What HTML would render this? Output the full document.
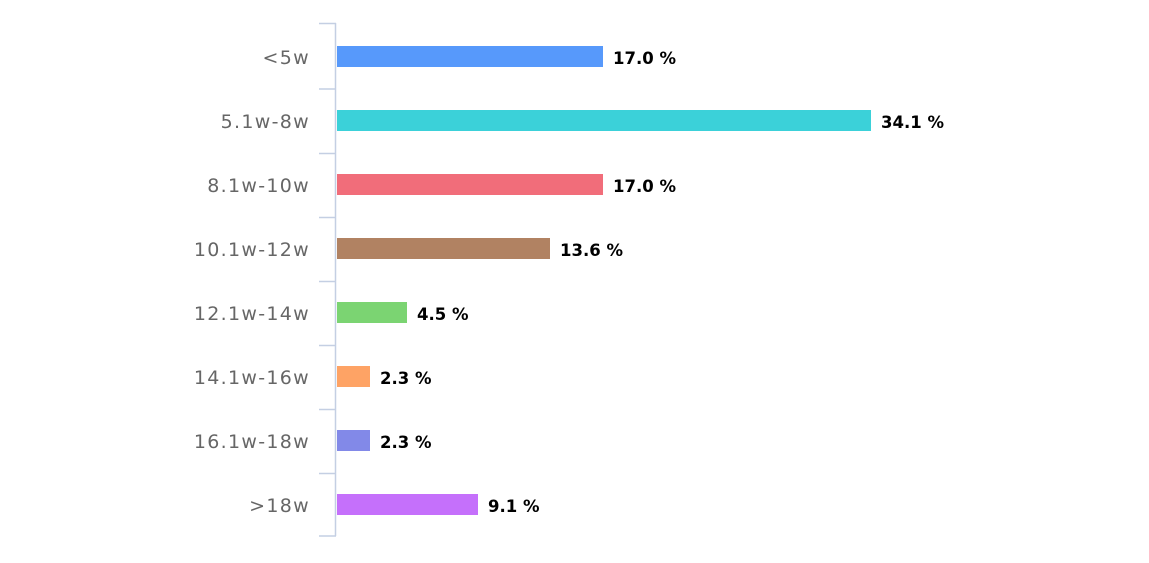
<!DOCTYPE html>
<html><head><meta charset="utf-8"><style>
body{margin:0;background:#fff;}
</style></head><body>
<svg width="1149" height="558" xmlns="http://www.w3.org/2000/svg" font-family="'DejaVu Sans','Liberation Sans',sans-serif">
<g stroke="#c4cfe3" stroke-width="1.5">
<line x1="335.5" y1="23" x2="335.5" y2="536"/>
<line x1="319" y1="23.5" x2="336" y2="23.5"/>
<line x1="319" y1="89" x2="336" y2="89"/>
<line x1="319" y1="153.5" x2="336" y2="153.5"/>
<line x1="319" y1="217.5" x2="336" y2="217.5"/>
<line x1="319" y1="281.5" x2="336" y2="281.5"/>
<line x1="319" y1="345.5" x2="336" y2="345.5"/>
<line x1="319" y1="409.5" x2="336" y2="409.5"/>
<line x1="319" y1="473.5" x2="336" y2="473.5"/>
<line x1="319" y1="536" x2="336" y2="536"/>
</g>
<g font-size="19" fill="#666" text-anchor="end" letter-spacing="1.3">
<text x="310" y="64">&lt;5w</text>
<text x="310" y="128">5.1w-8w</text>
<text x="310" y="192">8.1w-10w</text>
<text x="310" y="256">10.1w-12w</text>
<text x="310" y="320">12.1w-14w</text>
<text x="310" y="384">14.1w-16w</text>
<text x="310" y="448">16.1w-18w</text>
<text x="310" y="512">&gt;18w</text>
</g>
<rect x="337" y="46" width="266" height="21" fill="#5799fb"/>
<rect x="337" y="110" width="534" height="21" fill="#3bd1d9"/>
<rect x="337" y="174" width="266" height="21" fill="#f16d7a"/>
<rect x="337" y="238" width="213" height="21" fill="#b18262"/>
<rect x="337" y="302" width="70" height="21" fill="#7bd472"/>
<rect x="337" y="366" width="33" height="21" fill="#fea365"/>
<rect x="337" y="430" width="33" height="21" fill="#8289e8"/>
<rect x="337" y="494" width="141" height="21" fill="#c570fb"/>
<g font-size="16.5" font-weight="bold" fill="#000">
<text x="613" y="64">17.0 %</text>
<text x="881" y="128">34.1 %</text>
<text x="613" y="192">17.0 %</text>
<text x="560" y="256">13.6 %</text>
<text x="417" y="320">4.5 %</text>
<text x="380" y="384">2.3 %</text>
<text x="380" y="448">2.3 %</text>
<text x="488" y="512">9.1 %</text>
</g>
</svg>
</body></html>
